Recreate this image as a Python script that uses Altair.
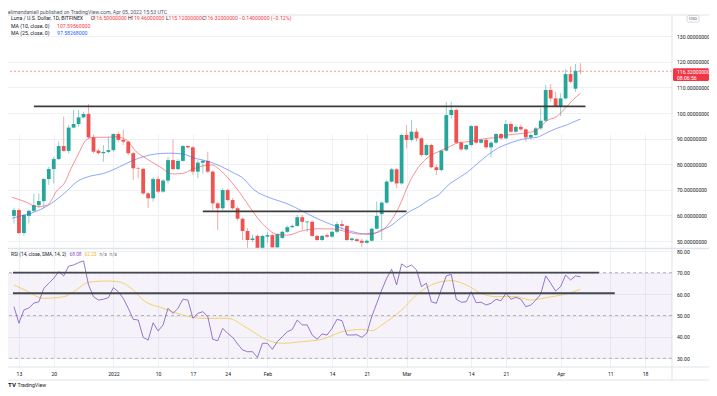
import altair as alt
import pandas as pd

# ---------------- data ----------------
START = "2021-12-12"
opens = [59.8, 62.1, 53.1, 59.8, 61.8, 64.0, 65.6, 74.2, 78.1, 82.0,
         87.1, 85.2, 94.3, 95.7, 98.3, 99.6, 90.5, 85.3, 84.3, 84.8,
         85.5, 91.8, 89.5, 88.8, 84.3, 78.4, 78.2, 68.6, 66.7, 74.2,
         69.3, 73.6, 81.6, 78.1, 81.3, 87.1, 86.6, 77.1, 80.6, 81.3,
         77.1, 64.7, 62.8, 69.9, 66.0, 62.8, 58.7, 53.9, 50.4, 52.0,
         47.1, 51.7, 52.3, 47.5, 51.2, 53.6, 55.4, 55.9, 59.3, 57.3,
         57.5, 52.0, 50.4, 52.3, 51.7, 53.6, 56.6, 55.9, 50.4, 50.7,
         50.1, 49.3, 50.1, 54.8, 60.5, 65.0, 73.2, 78.0, 72.5, 91.4,
         89.5, 92.7, 90.1, 83.6, 87.5, 78.8, 77.7, 85.3, 99.2, 101.2,
         88.4, 85.8, 87.5, 94.9, 88.4, 89.5, 86.6, 88.4, 91.8, 90.1,
         95.7, 92.7, 94.6, 93.6, 90.5, 91.4, 94.0, 97.0, 109.0, 105.7,
         102.7, 105.7, 115.2, 109.5, 116.5]
highs = [63.0, 62.8, 60.6, 62.3, 68.4, 68.6, 74.6, 79.0, 82.9, 88.8,
         98.6, 95.3, 101.2, 101.2, 100.5, 103.5, 91.5, 86.0, 87.5, 90.7,
         92.1, 92.7, 93.6, 89.2, 84.8, 79.0, 78.6, 69.2, 75.1, 75.1,
         74.2, 82.9, 89.7, 82.0, 87.5, 87.4, 87.0, 81.6, 81.8, 84.9,
         77.7, 65.2, 70.6, 70.4, 66.8, 63.4, 59.2, 55.0, 52.5, 52.6,
         52.3, 53.6, 52.8, 53.0, 54.0, 56.0, 56.5, 60.2, 60.2, 57.8,
         58.0, 52.5, 52.4, 53.0, 54.0, 57.5, 58.2, 56.3, 51.4, 51.2,
         51.0, 50.6, 55.2, 65.4, 65.5, 73.8, 78.6, 78.5, 91.8, 95.3,
         97.3, 94.0, 90.6, 88.0, 88.0, 79.8, 85.8, 104.4, 104.4, 101.8,
         89.0, 88.0, 95.4, 95.3, 90.0, 90.0, 89.0, 92.3, 92.3, 97.3,
         96.6, 95.2, 95.5, 94.0, 92.0, 94.5, 101.8, 110.9, 111.3, 108.3,
         107.7, 117.1, 118.1, 119.1, 119.46]
lows = [56.9, 52.7, 52.1, 56.9, 61.4, 62.8, 62.8, 71.9, 72.5, 81.6,
        84.9, 84.3, 94.0, 94.6, 97.9, 90.1, 84.3, 83.8, 81.0, 84.3,
        84.9, 88.8, 87.5, 83.6, 73.8, 74.5, 68.0, 62.9, 65.4, 68.6,
        68.8, 72.5, 77.7, 77.5, 81.0, 86.0, 75.8, 74.5, 76.4, 76.4,
        62.1, 54.3, 62.1, 65.5, 62.2, 58.0, 50.4, 47.1, 49.6, 46.8,
        46.6, 49.1, 47.0, 47.2, 50.8, 53.2, 55.0, 55.6, 54.3, 53.6,
        51.5, 50.0, 50.0, 51.2, 51.3, 53.0, 54.3, 50.0, 49.8, 49.7,
        47.5, 49.0, 49.8, 54.5, 50.4, 64.5, 72.8, 70.6, 72.0, 86.2,
        88.8, 88.8, 83.0, 83.2, 78.4, 75.8, 77.2, 84.9, 97.9, 88.0,
        85.2, 85.3, 87.0, 88.0, 88.0, 86.0, 82.7, 88.0, 89.6, 89.8,
        92.2, 92.3, 93.2, 88.8, 89.8, 91.0, 93.4, 96.5, 104.4, 102.5,
        98.8, 105.3, 111.6, 108.3, 115.12]
closes = [62.1, 53.1, 60.2, 61.8, 64.0, 65.6, 74.2, 78.1, 82.0, 87.1,
          85.2, 94.3, 95.7, 98.3, 99.6, 90.5, 84.9, 84.3, 84.8, 85.5,
          91.8, 89.5, 88.8, 84.3, 78.4, 78.2, 68.6, 66.7, 74.2, 69.3,
          73.6, 81.6, 78.1, 81.3, 87.1, 86.6, 77.1, 80.6, 81.3, 77.1,
          64.7, 62.8, 69.9, 66.0, 62.8, 58.7, 53.9, 50.4, 51.0, 47.1,
          52.0, 52.3, 47.5, 52.7, 53.6, 55.4, 55.9, 59.3, 57.5, 57.6,
          52.0, 50.4, 52.0, 51.7, 53.6, 56.6, 55.9, 50.4, 51.0, 50.0,
          49.3, 50.1, 54.8, 59.8, 65.0, 73.2, 78.0, 72.5, 91.4, 89.5,
          92.7, 90.1, 83.6, 87.5, 78.8, 77.7, 85.3, 99.2, 101.2, 88.4,
          85.8, 87.5, 94.9, 88.4, 89.5, 86.6, 88.4, 91.8, 90.1, 95.7,
          92.7, 94.6, 93.6, 90.5, 91.4, 94.0, 97.0, 109.0, 105.7, 102.7,
          105.7, 115.2, 112.2, 116.46, 116.32]

rsi_vals = [54.1, 46.4, 52.6, 53.5, 55.8, 56.4, 62.7, 65.0, 67.4, 70.5,
            68.5, 73.1, 73.6, 74.7, 75.5, 64.3, 58.8, 57.2, 57.6, 58.3,
            63.0, 61.1, 58.0, 53.4, 48.2, 47.9, 39.8, 38.5, 46.6, 42.8,
            45.6, 53.4, 51.0, 53.4, 57.6, 57.2, 48.7, 51.0, 51.8, 49.5,
            38.9, 38.2, 44.0, 41.7, 39.8, 36.7, 33.9, 33.1, 33.1, 30.4,
            37.0, 37.0, 34.2, 37.8, 40.1, 42.4, 43.5, 47.9, 45.6, 45.6,
            40.9, 38.9, 41.4, 40.9, 44.0, 48.2, 47.6, 40.9, 40.9, 41.0,
            39.8, 41.7, 49.5, 55.7, 61.9, 67.4, 71.6, 64.3, 74.1, 72.5,
            73.6, 71.3, 63.5, 65.1, 56.4, 55.7, 62.2, 68.5, 69.2, 57.6,
            56.2, 56.4, 61.1, 56.0, 56.2, 54.9, 55.7, 57.6, 56.9, 60.4,
            57.6, 58.5, 57.6, 54.1, 54.9, 57.2, 59.9, 68.5, 65.1, 61.4,
            63.5, 68.9, 66.6, 68.5, 68.08]
rsi_ma_day = [0, 2.2, 6, 10, 12, 15, 18, 21, 24, 26, 30, 34, 38, 43, 47, 51,
              54, 58, 62, 66, 70, 72, 74, 78, 81, 84, 88, 91, 94, 97, 101,
              104, 107, 111, 114]
rsi_ma_val = [64.3, 61.9, 58.0, 58.8, 61.1, 65.5, 66.1, 65.8, 61.9, 57.2,
              53.4, 50.2, 48.7, 48.7, 44.0, 38.5, 37.0, 37.8, 38.9, 42.4,
              43.5, 42.9, 45.6, 52.6, 59.6, 64.3, 66.3, 64.3, 60.4, 58.8,
              58.8, 57.2, 58.3, 60.0, 62.23]

ma10_day = [-0.4, 2.18, 4.76, 6.74, 8.72, 10.11, 11.5, 12.69, 14.67, 16.06,
            18.04, 20.61, 22.6, 24.58, 26.56, 29.34, 31.91, 33.89, 35.88,
            37.86, 39.84, 41.82, 44.4, 45.79, 47.18, 49.75, 53.12, 55.1,
            57.68, 61.05, 64.22, 67.0, 69.57, 72.15, 73.54, 75.52, 77.5,
            79.48, 81.46, 83.45, 85.43, 87.41, 89.39, 91.38, 93.36, 95.34,
            97.32, 99.31, 101.29, 103.27, 105.25, 107.24, 109.22, 111.2,
            113.18, 114.0]
ma10_val = [67.1, 65.4, 63.4, 64.1, 69.9, 72.5, 78.4, 82.9, 89.7, 90.5,
            90.5, 90.7, 89.5, 84.9, 82.3, 79.0, 76.2, 76.4, 78.0, 79.3,
            79.7, 77.1, 71.5, 68.0, 64.0, 57.3, 52.5, 52.3, 53.8, 54.8,
            54.7, 53.6, 52.7, 53.0, 53.6, 56.9, 63.4, 72.5, 79.0, 82.9,
            84.9, 86.6, 88.4, 88.8, 89.5, 90.1, 90.5, 91.4, 91.8, 92.3,
            93.4, 97.0, 98.6, 102.5, 106.4, 107.6]
ma25_day = [-0.4, 2.18, 4.76, 7.53, 10.11, 12.69, 15.46, 18.04, 20.61, 23.39,
            25.97, 28.54, 31.32, 33.89, 36.47, 39.25, 41.82, 44.4, 45.79,
            48.37, 51.73, 55.1, 58.28, 61.65, 65.01, 68.19, 70.96, 72.15,
            73.54, 75.52, 77.5, 79.48, 81.46, 83.45, 85.43, 87.41, 89.39,
            91.38, 93.36, 95.34, 97.32, 99.31, 101.29, 103.27, 105.25,
            107.24, 109.22, 111.2, 113.18, 114.0]
ma25_val = [58.9, 60.2, 61.8, 64.7, 68.6, 73.2, 75.4, 76.4, 78.4, 81.0,
            82.9, 84.0, 84.3, 84.0, 82.3, 81.0, 79.0, 76.4, 75.0, 69.9,
            66.7, 64.5, 61.4, 58.2, 55.6, 53.6, 52.7, 52.7, 54.0, 55.6,
            58.5, 61.4, 63.4, 66.0, 68.0, 71.9, 74.5, 77.1, 80.4, 83.6,
            86.2, 87.9, 89.2, 90.1, 90.5, 92.3, 94.0, 95.3, 97.0, 97.58]

last_price = [116.32]
trend_from = [4, 38]
trend_to = [115, 79]
trend_level = [102.6, 61.6]
rsi_trend_from = [-0.2, -0.2]
rsi_trend_to = [117.7, 120.9]
rsi_trend_level = [70.0, 60.4]
rsi_levels = [70, 50, 30]
rsi_band = [30, 70]

date_ticks = ["2021-12-13", "2021-12-20", "2022-01-01", "2022-01-10", "2022-01-17",
              "2022-01-24", "2022-02-01", "2022-02-14", "2022-02-21", "2022-03-01",
              "2022-03-14", "2022-03-21", "2022-04-01", "2022-04-11", "2022-04-18"]
price_ticks = [50, 60, 70, 80, 90, 100, 110, 120, 130]
rsi_ticks = [30, 40, 50, 60, 70, 80]

# ---------------- styles ----------------
FONT = "Roboto"
TXT = "#131722"
GRID = "#eef0f4"
FRAME = "#e0e3eb"
GREEN = "#26a69a"
RED = "#ef5350"
PURPLE = "#7e57c2"
YELLOW = "#f2c94c"
W, H = 664, 352

DAY = 86400000
start_ms = int(pd.Timestamp(START, tz="UTC").value // 1_000_000)


def ms(d):
    return start_ms + d * DAY


def ms_date(s):
    return int(pd.Timestamp(s, tz="UTC").value // 1_000_000)


x_scale = alt.Scale(type="utc", domain=[ms(-0.198), ms(131.41)], nice=False)
x_axis = alt.Axis(
    values=[ms_date(s) for s in date_ticks],
    labelExpr="utcmonth(datum.value)==0 && utcdate(datum.value)==1 ? '2022' : "
              "(utcdate(datum.value)==1 ? utcFormat(datum.value, '%b') : '' + utcdate(datum.value))",
    grid=True, gridColor=GRID, ticks=False, domain=False,
    labelFont=FONT, labelFontSize=5.1, labelColor=TXT, labelPadding=4,
    labelFlush=False, labelOverlap=False)


def X(f="t"):
    return alt.X(f + ":T", scale=x_scale, axis=x_axis, title=None)


ym_scale = alt.Scale(domain=[47.27, 138.28], range=[233, 0], nice=False, zero=False)
ym_axis = alt.Axis(orient="right", values=price_ticks, format=".8f", grid=True,
                   gridColor=GRID, ticks=False, domain=False, labelFont=FONT,
                   labelFontSize=5.1, labelColor=TXT, labelPadding=4.5,
                   labelFlush=False, labelOverlap=False)
yr_scale = alt.Scale(domain=[25.94, 81.07], range=[352, 234], nice=False, zero=False)
yr_axis = alt.Axis(orient="right", values=rsi_ticks, format=".2f", grid=True,
                   gridColor=GRID, ticks=False, domain=False, labelFont=FONT,
                   labelFontSize=5.1, labelColor=TXT, labelPadding=4.5,
                   labelFlush=False, labelOverlap=False)


def YM(f):
    return alt.Y(f + ":Q", scale=ym_scale, axis=ym_axis, title=None)


def YR(f):
    return alt.Y(f + ":Q", scale=yr_scale, axis=yr_axis, title=None)


# ---------------- frames ----------------
cdf = pd.DataFrame({"t": [ms(i) for i in range(len(closes))],
                    "open": opens, "high": highs, "low": lows, "close": closes})
cdf["dir"] = ["up" if c >= o else "down" for o, c in zip(opens, closes)]
rsidf = pd.DataFrame({"t": [ms(i) for i in range(len(rsi_vals))], "r": rsi_vals})
rsimadf = pd.DataFrame({"t": [ms(d) for d in rsi_ma_day], "r": rsi_ma_val})
ma10df = pd.DataFrame({"t": [ms(d) for d in ma10_day], "v": ma10_val})
ma25df = pd.DataFrame({"t": [ms(d) for d in ma25_day], "v": ma25_val})
lpdf = pd.DataFrame({"p": last_price})
trdf = pd.DataFrame({"t0": [ms(d) for d in trend_from], "t1": [ms(d) for d in trend_to],
                     "lvl": trend_level})
rtrdf = pd.DataFrame({"t0": [ms(d) for d in rsi_trend_from], "t1": [ms(d) for d in rsi_trend_to],
                      "lvl": rsi_trend_level})
lvldf = pd.DataFrame({"r": rsi_levels})
banddf = pd.DataFrame({"lo": [rsi_band[0]], "hi": [rsi_band[1]]})
one = pd.DataFrame({"k": [0]})

color_enc = alt.Color("dir:N", scale=alt.Scale(domain=["up", "down"], range=[GREEN, RED]),
                      legend=None)

# ---------------- main pane ----------------
last_line = alt.Chart(lpdf).mark_rule(color=RED, strokeWidth=1, strokeDash=[2, 2],
                                      opacity=0.6).encode(y=YM("p"))
wicks = alt.Chart(cdf).mark_rule(strokeWidth=1, opacity=0.5).encode(
    x=X(), y=YM("low"), y2="high:Q", color=color_enc)
bodies = alt.Chart(cdf).mark_bar(size=3.8).encode(
    x=X(), y=YM("open"), y2="close:Q", color=color_enc)
ma25_line = alt.Chart(ma25df).mark_line(color="#2962ff", strokeWidth=1, opacity=0.55,
                                        interpolate="monotone").encode(x=X(), y=YM("v"))
ma10_line = alt.Chart(ma10df).mark_line(color="#f23645", strokeWidth=1, opacity=0.55,
                                        interpolate="monotone").encode(x=X(), y=YM("v"))
trend = alt.Chart(trdf).mark_rule(color="#3d3d3d", strokeWidth=1.8).encode(
    x=X("t0"), x2="t1:T", y=YM("lvl"))


def label(txt, x, y, color=TXT, size=5.2, align="left", weight="normal"):
    return alt.Chart(one).mark_text(text=txt, color=color, fontSize=size, align=align,
                                    baseline="middle", font=FONT, fontWeight=weight
                                    ).encode(x=alt.value(x), y=alt.value(y))


def hline(y, x1, x2, color=FRAME, width=1):
    return alt.Chart(one).mark_rule(color=color, strokeWidth=width).encode(
        x=alt.value(x1), x2=alt.value(x2), y=alt.value(y))


def vline(x, y1, y2, color=FRAME, width=1):
    return alt.Chart(one).mark_rule(color=color, strokeWidth=width).encode(
        x=alt.value(x), y=alt.value(y1), y2=alt.value(y2))


def box(x1, x2, y1, y2, fill, stroke=None):
    kw = dict(fill=fill, cornerRadius=1.5)
    if stroke:
        kw["stroke"] = stroke
        kw["strokeWidth"] = 0.8
    return alt.Chart(one).mark_rect(**kw).encode(
        x=alt.value(x1), x2=alt.value(x2), y=alt.value(y1), y2=alt.value(y2))


RT = "#f23645"
RSI_Y = 240.3
texts = [
    label("elimandaniell published on TradingView.com, Apr 05, 2022 15:53 UTC", 0, -3.5,
          color="#50535e"),
    label("Luna / U.S. Dollar, 1D, BITFINEX", 3, 3),
    label("O", 82.7, 3), label("116.50000000", 85.3, 3, RT),
    label("H", 120, 3), label("119.46000000", 123, 3, RT),
    label("L", 158, 3), label("115.12000000", 160.5, 3, RT),
    label("C", 194, 3), label("116.32000000", 196.5, 3, RT),
    label("\u22120.14000000 (\u22120.12%)", 231, 3, RT),
    label("MA (10, close, 0)", 3, 10.5), label("107.59560000", 49, 10.5, RT),
    label("MA (25, close, 0)", 3, 18), label("97.58268000", 49, 18, "#2962ff"),
    label("RSI (14, close, SMA, 14, 2)", 3, RSI_Y, size=4.8),
    label("68.08", 61.5, RSI_Y, PURPLE, size=4.8),
    label("62.23", 76.5, RSI_Y, "#e9b824", size=4.8),
    label("n/a", 91.5, RSI_Y, "#787b86", size=4.8),
    label("n/a", 101.5, RSI_Y, "#787b86", size=4.8),
    box(679, 691, 0.5, 7, "white", "#c9ccd6"),
    label("USD", 685, 3.8, color="#50535e", size=4.2, align="center"),
    box(665, 701, 53.3, 66, "#f23645"),
    label("116.32000000", 669, 56.5, color="white", size=5.1),
    label("08:06:56", 669, 62.8, color="white", size=5.1),
    label("TV", 0, 369.5, size=6.2, weight="bold"),
    label("TradingView", 9.5, 369.5, size=5.2),
]
frames = [
    hline(0, 0, 701), hline(233.5, 0, 701, width=1.5), hline(352, 0, 701),
    hline(365, 0, 701), vline(664, 0, 365),
]

main = alt.layer(last_line, wicks, bodies, ma25_line, ma10_line, trend,
                 *frames, *texts)

# ---------------- RSI pane ----------------
band = alt.Chart(banddf).mark_rect(color=PURPLE, opacity=0.08).encode(
    x=alt.value(0), x2=alt.value(W), y=YR("lo"), y2="hi:Q")
levels = alt.Chart(lvldf).mark_rule(color="#9598a1", strokeWidth=1, strokeDash=[3, 3],
                                    opacity=0.7).encode(y=YR("r"))
rsi_ma_line = alt.Chart(rsimadf).mark_line(color=YELLOW, strokeWidth=1, opacity=0.8,
                                           interpolate="monotone").encode(x=X(), y=YR("r"))
rsi_line = alt.Chart(rsidf).mark_line(color=PURPLE, strokeWidth=1, opacity=0.8).encode(
    x=X(), y=YR("r"))
rsi_trend = alt.Chart(rtrdf).mark_rule(color="#45474f", strokeWidth=1.8).encode(
    x=X("t0"), x2="t1:T", y=YR("lvl"))

rsi_pane = alt.layer(band, levels, rsi_ma_line, rsi_line, rsi_trend)

chart = alt.layer(main, rsi_pane).resolve_scale(y="independent").properties(
    width=W, height=H,
    autosize=alt.AutoSizeParams(type="none"),
    padding={"left": 0, "top": 7, "right": 37, "bottom": 21},
).configure(background="white").configure_view(strokeWidth=0)

chart.save("out.html", embed_options={"renderer": "svg", "actions": False})
